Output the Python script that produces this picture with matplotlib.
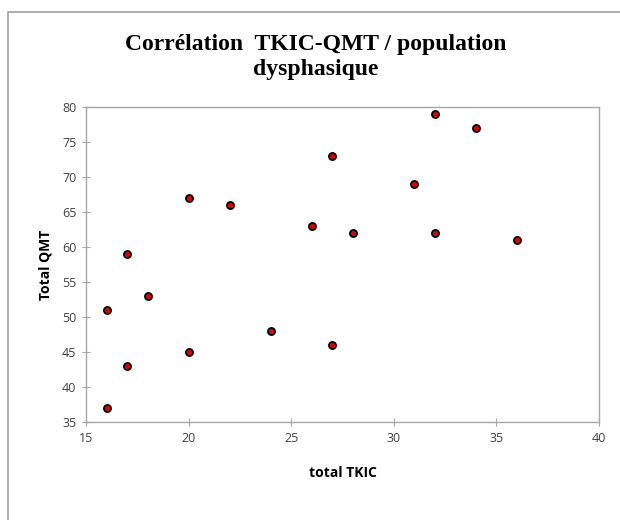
import matplotlib.pyplot as plt
from matplotlib.patches import Rectangle

# total TKIC (x) et total QMT (y)
tkic = [16, 16, 17, 17, 18, 20, 20, 22, 24, 26, 27, 27, 28, 31, 32, 32, 34, 36]
qmt = [37, 51, 43, 59, 53, 45, 67, 66, 48, 63, 73, 46, 62, 69, 79, 62, 77, 61]

x_ticks = [15, 20, 25, 30, 35, 40]
y_ticks = [35, 40, 45, 50, 55, 60, 65, 70, 75, 80]

fig = plt.figure(figsize=(6.2, 5.2), dpi=100)

# cadre du graphique (coupé à droite et en bas)
fig.patches.append(Rectangle((8 / 620, -0.1), 1.2, 1.1 - 12 / 520, transform=fig.transFigure,
                             fill=False, edgecolor="#a0a0a0", linewidth=1.2))

ax = fig.add_axes([86 / 620, 1 - 422 / 520, (599 - 86) / 620, (422 - 107) / 520])
ax.scatter(tkic, qmt, s=26, color="#e00000", edgecolors="black", linewidths=1.3, zorder=3)

ax.set_xlim(15, 40)
ax.set_ylim(35, 80)
ax.set_xticks(x_ticks)
ax.set_yticks(y_ticks)
for s in ax.spines.values():
    s.set_color("#a6a6a6")
    s.set_linewidth(1.0)
ax.tick_params(direction="inout", length=6, color="#a6a6a6", labelsize=9,
               labelcolor="#404040", pad=4)
for lab in ax.get_xticklabels() + ax.get_yticklabels():
    lab.set_family("Open Sans")

ax.set_xlabel("total TKIC", fontsize=10, fontweight="bold", family="Open Sans", labelpad=15)
ax.set_ylabel("Total QMT", fontsize=10, fontweight="bold", family="Open Sans", labelpad=7)

fig.text(316 / 620, 1 - 57 / 520, "Corrélation  TKIC-QMT / population\ndysphasique",
         ha="center", va="center", fontsize=17, fontweight="bold",
         family="Liberation Serif", linespacing=1.28)

fig.savefig("out.png", dpi=100)
